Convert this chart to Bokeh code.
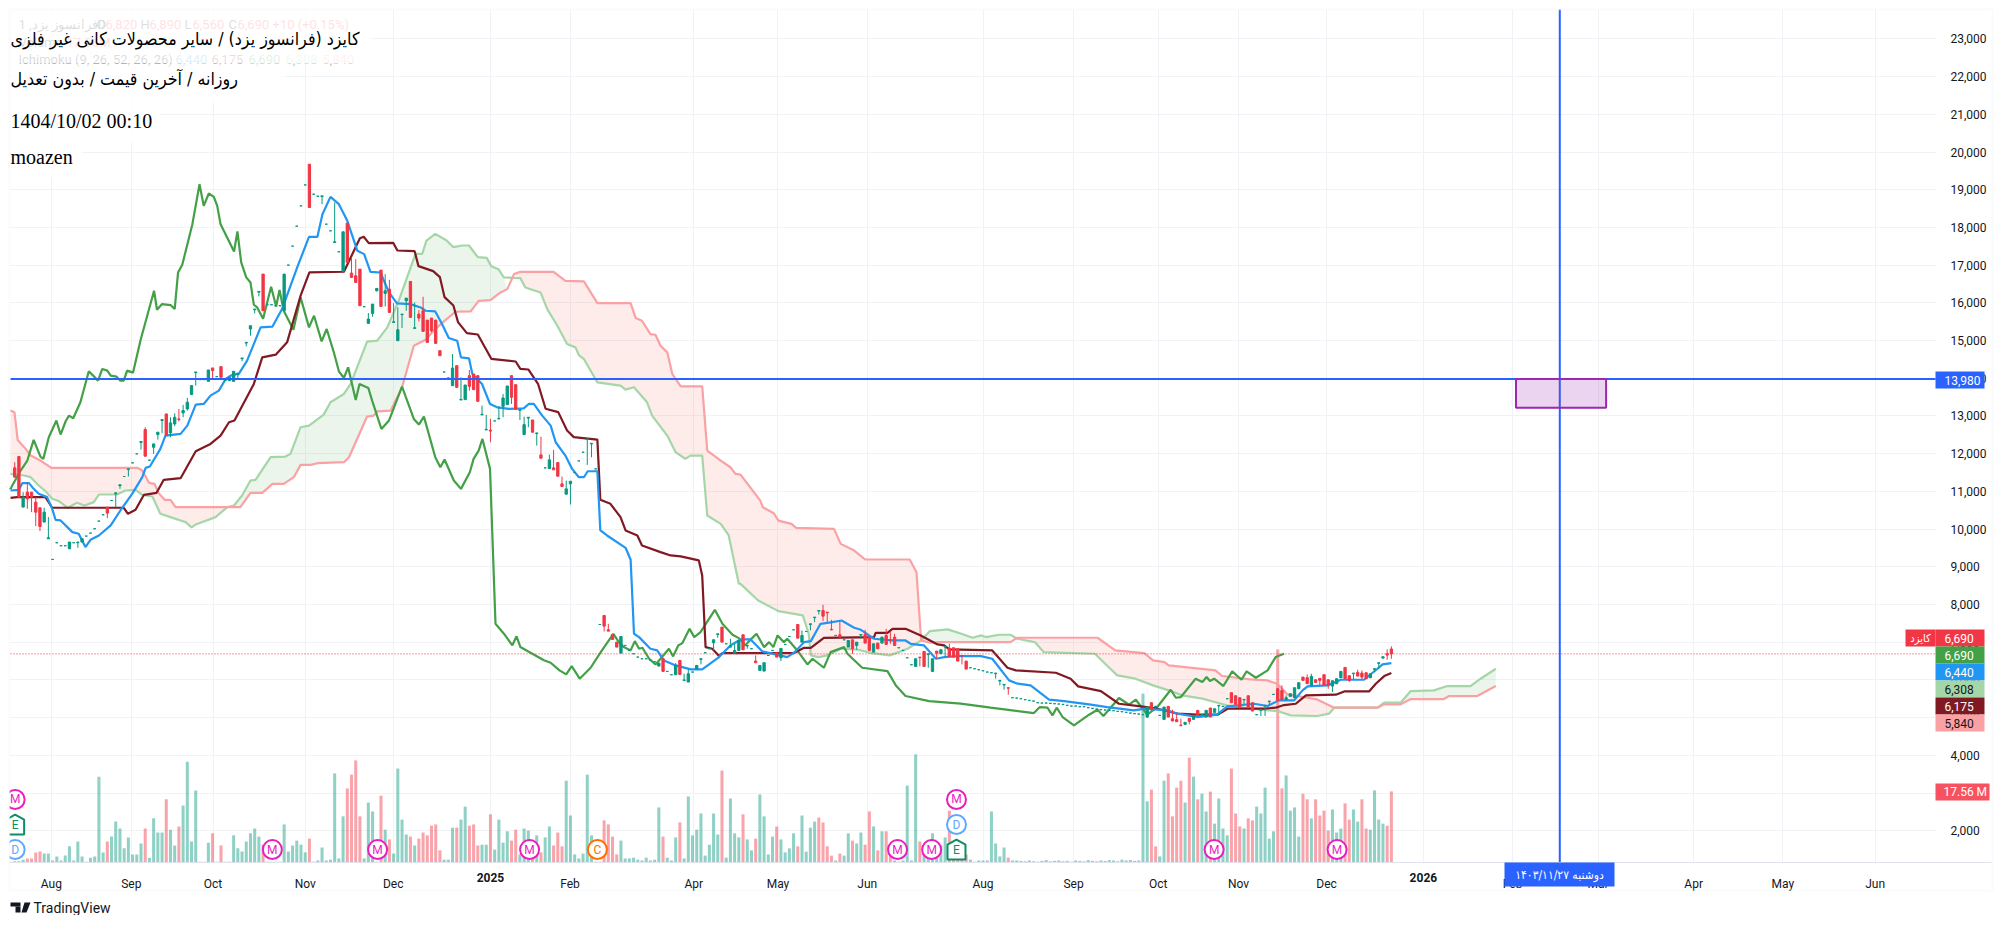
from bokeh.core.properties import value
from bokeh.embed import file_html
from bokeh.models import (BoxAnnotation, FixedTicker, Label, NumeralTickFormatter,
                          PolyAnnotation, Range1d)
from bokeh.plotting import figure
from bokeh.resources import INLINE

# candles, one value per bar
candle_open = [
    11070, 11625, 11925, 10583, 10980, 10980, 10715, 10565, 10186, 9744,
    9196, 9638, 9558, 9558, 9479, 9638, 9640, 9656, 9815, 9894,
    10009, 10212, 10380, 10583, 10759, 10940, 11150, 11395, 11580, 11757,
    11996, 12300, 12640, 11828, 12172, 12508, 12880, 13055, 12552, 12790,
    12923, 13082, 13187, 13567, 14150, 13965, 13965, 13920, 14274, 14044,
    14309, 13938, 13938, 13920, 14095, 14520, 14935, 15307, 15820, 16285,
    16764, 15951, 15951, 15925, 15925, 15792, 17002, 17506, 18035, 18574,
    19130, 19678, 18883, 18830, 18820, 18088, 17912, 17603, 17355, 16835,
    18115, 16790, 16720, 16896, 15898, 15457, 15721, 16321, 16869, 16251,
    16365, 15483, 14997, 15690, 16056, 16569, 15324, 15703, 15792, 15544,
    15597, 15544, 14732, 14167, 14008, 13805, 14335, 13425, 13434, 14070,
    14114, 14070, 13028, 12630, 12625, 12869, 12922, 13257, 13301, 14070,
    13831, 13150, 12507, 12945, 12895, 12535, 11968, 11624, 11606, 11624,
    11765, 11200, 10926, 11200, 11500, 11809, 12039, 12375, 12260, 11597,
    7470, 7709, 7329, 7205, 7002, 6711, 6914, 6782, 6693, 6605,
    6561, 6561, 6517, 6481, 6367, 6561, 6225, 6137, 6137, 6517,
    5987, 5943, 6208, 6287, 6545, 6720, 6826, 6985, 7205, 7400,
    6958, 6870, 6711, 6782, 7197, 6900, 6826, 6499, 6252, 6234,
    6649, 6782, 6720, 6587, 6941, 7152, 7329, 7470, 7002, 7285,
    7470, 7650, 7825, 7841, 7797, 7340, 7179, 7197, 7064, 6870,
    7064, 6914, 7190, 7205, 7135, 6737, 6976, 6976, 7179, 7064,
    7135, 6852, 6782, 6587, 6402, 6358, 6605, 6755, 6675, 6225,
    6764, 6693, 6870, 6843, 6852, 6826, 6649, 6499, 6322, 6296,
    6269, 6243, 6208, 6190, 6165, 5970, 5865, 5793, 5528, 5519,
    5501, 5475, 5457, 5439, 5395, 5386, 5386, 5378, 5369, 5360,
    5351, 5325, 5307, 5307, 5289, 5289, 5263, 5245, 5227, 5210,
    5201, 5192, 5183, 5165, 5157, 5139, 5121, 5104, 5095, 5077,
    5015, 5395, 5298, 5059, 4953, 5298, 4971, 4945, 4800, 4821,
    4980, 4953, 5192, 5077, 5015, 5254, 5139, 5310, 5298, 5501,
    5660, 5580, 5527, 5470, 5580, 5395, 5077, 5195, 5310, 5425,
    5616, 5766, 5722, 5474, 5563, 5527, 5766, 6075, 6057, 5854,
    6004, 6040, 6137, 6004, 5836, 5898, 6057, 6331, 6110, 6165,
    6198, 6181, 6190, 6057, 6280, 6440, 6578, 6693, 6820,
]
candle_close = [
    11070, 11377, 10848, 10848, 10803, 10848, 10450, 10070, 10450, 9770,
    9196, 9638, 9558, 9558, 9656, 9638, 9656, 9744, 9815, 9894,
    10009, 10212, 10380, 10424, 10759, 10962, 11175, 11395, 11598, 11757,
    11996, 12322, 11934, 11828, 12260, 12570, 12905, 12481, 12817, 12967,
    12905, 13144, 13364, 13806, 14168, 13965, 13965, 14221, 14203, 14044,
    14026, 13938, 14026, 14185, 14115, 14539, 14954, 15395, 15837, 16305,
    15792, 15951, 15951, 15925, 15925, 16764, 17002, 17506, 18035, 18574,
    19130, 18530, 18883, 18830, 18839, 18088, 17912, 17620, 17355, 17885,
    17073, 16675, 16543, 15925, 15898, 15572, 15968, 16383, 15906, 16321,
    15747, 15500, 15288, 15703, 16127, 15615, 15340, 15597, 15244, 14953,
    15262, 14926, 14599, 14167, 14008, 14273, 13760, 13440, 13822, 13787,
    13699, 13390, 13045, 12645, 12600, 12869, 12935, 13478, 13796, 13496,
    13178, 13169, 12772, 12966, 12569, 12551, 11880, 11624, 11836, 11571,
    11403, 11129, 11067, 11270, 11500, 11809, 12039, 12392, 12277, 11597,
    7470, 7426, 7294, 7073, 6870, 7152, 6914, 6782, 6693, 6605,
    6561, 6561, 6517, 6481, 6446, 6225, 6225, 6137, 6384, 6146,
    6000, 6163, 6208, 6384, 6561, 6720, 6826, 7064, 7223, 7002,
    6958, 6885, 6782, 7046, 6799, 6914, 6826, 6455, 6384, 6455,
    6649, 6782, 6605, 6835, 6941, 7152, 7329, 7108, 7179, 7285,
    7488, 7665, 7841, 7691, 7780, 7325, 7179, 7135, 7064, 7046,
    6826, 7002, 7205, 6976, 6782, 6958, 6826, 7135, 6941, 7046,
    6914, 6852, 6782, 6587, 6402, 6561, 6590, 6358, 6693, 6561,
    6711, 6799, 6888, 6623, 6605, 6499, 6635, 6287, 6322, 6296,
    6269, 6243, 6208, 6190, 6181, 5987, 5881, 5780, 5528, 5519,
    5501, 5475, 5457, 5439, 5395, 5386, 5386, 5378, 5369, 5360,
    5351, 5325, 5307, 5307, 5289, 5289, 5263, 5245, 5227, 5210,
    5201, 5192, 5183, 5165, 5157, 5139, 5121, 5104, 5095, 5077,
    5280, 5210, 5298, 5059, 5280, 5015, 4909, 4892, 4785, 4874,
    4900, 5059, 5077, 5077, 5192, 5015, 5236, 5324, 5298, 5501,
    5395, 5351, 5263, 5483, 5263, 5174, 5077, 5210, 5324, 5439,
    5616, 5457, 5474, 5527, 5633, 5792, 5925, 5987, 5898, 6093,
    5934, 5987, 5854, 5854, 5978, 6031, 6225, 6031, 5987, 6181,
    6101, 6075, 6031, 6163, 6296, 6455, 6614, 6658, 6690,
]
# only the bars whose wick goes past the body
wick_high = {
    1: 11775, 3: 10980, 4: 11245, 6: 10848, 8: 10565, 9: 10318, 32: 12702, 38: 12967, 39: 13073,
    40: 13188, 41: 13294, 42: 13479, 77: 18662, 81: 17205, 82: 17161, 85: 15731, 89: 16763,
    90: 16613, 91: 15995, 92: 15880, 96: 16012, 97: 15809, 98: 16162, 105: 14644, 107: 14025,
    109: 14220, 112: 13275, 113: 13028, 114: 12922, 116: 13257, 117: 13584, 122: 12983,
    126: 12454, 128: 11977, 129: 12100, 131: 11394, 132: 11288, 142: 7488, 158: 6446, 160: 6163,
    161: 6278, 171: 7091, 172: 6958, 177: 6649, 188: 7311, 193: 7991, 195: 7594, 197: 7559,
    203: 7329, 208: 7355, 209: 7267, 210: 7223, 223: 6958, 276: 5210, 277: 5104, 278: 4971,
    302: 5854, 303: 5589, 308: 6146, 309: 6163, 320: 6269, 321: 6251, 327: 6808, 328: 6890,
}
wick_low = {
    4: 10539, 5: 10450, 6: 10080, 7: 9947, 16: 9505, 23: 10291, 25: 10583, 26: 11068, 28: 11395,
    31: 12110, 34: 11996, 35: 12375, 36: 12543, 38: 12437, 39: 12728, 40: 12852, 41: 12967,
    42: 13144, 44: 13806, 48: 13982, 54: 13982, 55: 14450, 56: 14848, 57: 15130, 58: 15722,
    59: 16172, 74: 18618, 86: 15633, 87: 16304, 89: 15906, 93: 15332, 94: 15792, 97: 15509,
    100: 15218, 109: 13672, 114: 12304, 117: 12966, 119: 13319, 121: 12895, 123: 12701,
    125: 12215, 133: 10652, 137: 11703, 138: 11906, 141: 7285, 164: 6411, 167: 6782, 168: 7117,
    175: 6826, 183: 6499, 190: 7311, 191: 7532, 192: 7735, 193: 7559, 194: 7532, 195: 7320,
    200: 6693, 201: 6799, 202: 7091, 209: 6958, 216: 6358, 218: 6322, 220: 6561, 222: 6605,
    226: 6411, 234: 6031, 235: 5854, 236: 5740, 237: 5607, 270: 4998, 280: 4821, 287: 5077,
    293: 5351, 297: 5042, 298: 5042, 299: 5324, 311: 5854, 313: 5766, 314: 5678, 318: 5942,
    319: 6004, 321: 6004, 324: 6207, 325: 6296, 327: 6534, 328: 6560,
}

# volume in millions, g = up bar, r = down bar
volume = [
    .2, .3, .3, .7, 1.0, 1.0, 2.5, 2.7, 2.2, 2.2,
    .5, 1.5, .5, 1.7, 4.0, .5, 5.2, 1.5, .2, 1.2,
    1.5, 21.2, 2.5, 5.2, 6.4, 10.1, 8.4, 3.5, 6.2, 2.0,
    2.0, 4.7, 8.4, 1.2, 10.9, 7.4, 7.4, 15.6, 8.1, 4.2,
    8.9, 14.1, 24.9, 5.2, 17.8, .2, .2, 4.9, 7.2, .2,
    4.2, .2, .2, 6.7, 3.5, 2.7, 5.2, 7.2, 8.4, 6.4,
    4.4, .2, .2, .2, .2, 9.4, 2.7, 4.2, 5.4, 4.4,
    2.5, 5.9, .2, .5, 3.7, .5, .7, 22.0, 1.0, 11.4,
    18.3, 21.7, 25.2, 11.4, 1.0, 14.8, 12.6, .2, 16.5, 8.1,
    5.7, 2.2, 23.2, 10.6, 6.9, 6.4, 4.2, 5.9, 7.4, 6.7,
    9.1, 9.4, 3.0, .7, .7, 8.6, 8.6, 10.6, 13.8, 9.1,
    9.4, 4.2, 4.4, 4.4, 11.9, 3.2, 10.6, 4.9, 7.7, 5.4,
    8.1, 2.0, 8.4, 7.9, 2.5, 6.7, 2.5, 6.2, 8.9, 4.2,
    7.4, 4.0, 20.2, 11.6, 2.0, 1.0, 2.2, 21.7, 6.7, .2,
    .2, 10.4, 9.4, 6.4, 2.0, 5.4, 1.0, 1.0, 1.2, .7,
    .5, 1.2, .5, .7, 13.6, 6.4, 1.2, .5, 6.2, 9.9,
    1.0, 16.3, 6.7, 8.1, 12.1, 1.7, 4.4, 12.1, 6.9, 22.7,
    1.2, 15.8, 7.2, 6.2, 11.9, 5.7, 3.0, 5.9, 16.8, 11.4,
    2.0, 6.4, 8.9, 5.7, 2.5, 3.5, 7.2, 4.0, 11.6, 2.7,
    8.6, 10.1, 11.1, 9.9, 4.0, 1.7, .5, 2.2, 1.7, 7.2,
    5.4, 4.7, 7.4, 4.4, 12.6, 8.9, 3.0, 7.7, 7.7, 3.0,
    .5, .2, .5, 19.0, .5, 26.7, 5.2, 2.0, 1.0, 7.2,
    3.0, 4.2, 6.2, 12.8, 2.5, 1.2, 1.0, 2.0, .7, .2,
    .5, .5, .5, 12.6, 4.7, 1.5, 3.7, 1.2, .5, .5,
    .4, .3, .5, .3, .2, .4, .6, .3, .4, .5,
    .3, .4, .2, .5, .4, .3, .6, .4, .3, .5,
    .4, .6, .5, .3, .7, .5, .6, .4, .5, 41.7,
    15.1, 18.0, 4.0, 1.5, 20.2, 22.0, 11.4, 18.5, 20.2, 14.8,
    25.9, 21.2, 15.6, 17.0, 12.6, 17.5, 9.6, 15.8, 8.4, 6.7,
    23.2, 12.1, 8.9, 8.4, 10.9, 10.4, 13.8, 12.1, 18.5, 5.9,
    7.7, 52.6, 18.3, 21.5, 12.8, 13.6, 6.4, 17.0, 15.6, 10.9,
    15.6, 11.6, 12.8, 7.9, 13.1, 7.4, 8.4, 14.6, 10.6, 13.1,
    10.1, 15.6, 8.4, 8.1, 17.8, 10.6, 9.6, 9.1, 17.56,
]
volume_side = (
    "grrgrrrrgg" "gggggggggg" "gggrgggggg" "ggrggggrgg" "rggggggg" "rg" "rggggggggg" "rggggggggg"
    "grgggggggg" "rrrrggggrg" "rggggrgrrr" "rrrgggrggr" "rrggrggggr" "rgggrgrggr" "rrgggggggg"
    "grrrrggggg" "gggggrgggr" "gggggggggr" "ggggrggrgg" "ggrggggrgg" "ggrrrrgrgg" "rggrrgrgrr"
    "ggggggrggg" "gggrrrrrgg" "gggggggrgg" "gggggggggg" "gggggggggg" "gggggggggg" "grrggrrrrg"
    "rgrggrgggg" "rrrgrrgggg" "grrggggrrg" "rrrrgggrrg" "grrggggrr"
)

# ichimoku lines, (bar, price) vertices
tenkan_bars = [
    0, 2, 2.8, 4.4, 5.5, 6.7, 8.7, 9.9, 10.7, 11.9, 13.5, 14.7, 16.2, 17.8, 19, 21, 23.8, 26.1, 28.9, 31.3,
    32.1, 33.1, 35.6, 36.8, 40.4, 42, 44, 45.9, 47.5, 49.5, 51.1, 52.3, 54.3, 56.2, 59.4, 62.2, 64.5, 68.1,
    70.9, 72.9, 74.1, 76, 78, 80, 82.4, 84, 85.5, 87.9, 88.7, 89.9, 91.8, 95, 97.4, 98.6, 100.9, 102.5, 104.1,
    106.1, 107, 108.9, 109.7, 112, 113.9, 115.6, 118.4, 121.9, 123.1, 124.3, 126.3, 128.3, 129.5, 131.8,
    133.4, 135, 136.2, 137.1, 139.4, 140.1, 141.7, 146.1, 147.3, 148.1, 149.3, 152, 153.6, 155.2, 158, 161.6,
    164.3, 168.3, 171, 173.4, 175.8, 178.6, 184.5, 186.3, 188.5, 190.1, 192.4, 195.2, 197.4, 200.4, 202,
    205.1, 209.1, 212.6, 213.8, 217, 219.8, 221.8, 224.9, 230.5, 233.2, 237.2, 239.2, 242.3, 246.7, 250.3,
    256.6, 260.5, 266.8, 269.6, 274.8, 277.1, 281.9, 286.6, 289, 292.2, 295.4, 298.6, 301.3, 304.9, 306.9,
    308.1, 312.8, 316, 321.5, 324.7, 325.9, 328,
]
tenkan_values = [
    11024, 11042, 11219, 11219, 11068, 10936, 10848, 10538, 10247, 10230, 10053, 9920, 9877, 9523, 9717, 9831,
    10097, 10494, 10936, 11377, 11625, 11660, 12128, 12481, 12525, 12746, 13302, 13320, 13541, 13673, 13982,
    14070, 14132, 14468, 15351, 15369, 15837, 16940, 17753, 17753, 18353, 18812, 18618, 18177, 17382, 17294,
    16825, 16807, 16586, 16277, 15986, 15968, 15880, 15791, 15774, 15438, 15067, 14997, 14555, 14529, 14114,
    13849, 13319, 13231, 13187, 13204, 13319, 13319, 13010, 12745, 12304, 11950, 11597, 11376, 11376, 11535,
    11535, 9964, 9831, 9504, 9187, 7223, 7135, 6826, 6782, 6517, 6384, 6278, 6278, 6605, 6914, 7073, 7073,
    6755, 6605, 6737, 7002, 7029, 7488, 7532, 7576, 7382, 7329, 7091, 7046, 7046, 6958, 6914, 6561, 6605,
    6632, 6632, 6561, 5987, 5899, 5854, 5475, 5439, 5342, 5280, 5192, 5236, 5192, 5104, 5015, 5077, 5298,
    5333, 5368, 5307, 5457, 5457, 5722, 5828, 5854, 6004, 6004, 6296, 6410, 6446,
]
kijun_bars = [
    0, 1.6, 8.3, 9.9, 26.9, 27.9, 29.7, 31.7, 34.7, 36.4, 40.4, 44, 47.5, 49.9, 51.9, 53.2, 57.8, 59.8, 63,
    65.7, 68.9, 71, 79.2, 83, 83.9, 85.1, 90.9, 91.9, 96, 96.9, 100.4, 102, 103.1, 105.2, 106.3, 108.4, 111,
    114.2, 120, 121.1, 123, 125.3, 127.1, 130.1, 132.2, 133.8, 139.4, 140.1, 142.5, 144.9, 146.1, 148.9, 150,
    154.4, 156.8, 159.2, 163.5, 164.3, 165.1, 166.7, 168.3, 169.1, 186.1, 188.5, 190.1, 193.2, 205.1, 205.5,
    208.3, 209.5, 212.6, 216.2, 220.2, 221.8, 223, 233.2, 236.8, 238.8, 248.3, 251.8, 253.6, 259, 263.3, 268.5,
    272.4, 277.2, 281.9, 286.7, 289.1, 297.8, 300.5, 302.5, 305.3, 307.7, 314.8, 316.8, 322.7, 324.3, 326.3, 328,
]
kijun_values = [
    10830, 10848, 10848, 10566, 10566, 10406, 10512, 10909, 10962, 11307, 11351, 12066, 12260, 12481, 12834,
    12879, 13850, 14556, 14627, 14954, 16190, 16808, 16826, 17717, 17753, 17585, 17593, 17390, 17372, 16975,
    16842, 16683, 16152, 15931, 15489, 15198, 15162, 14517, 14446, 14252, 14234, 13854, 13191, 13103, 12616,
    12440, 12374, 10776, 10670, 10317, 9964, 9831, 9566, 9390, 9301, 9275, 9169, 8772, 6870, 6826, 6632, 6711,
    6711, 6852, 6852, 7117, 7135, 7250, 7250, 7355, 7355, 7179, 6941, 6914, 6808, 6782, 6322, 6252, 6190, 6031,
    5828, 5704, 5368, 5298, 5236, 5104, 5077, 5077, 5236, 5236, 5263, 5333, 5368, 5589, 5607, 5695, 5695, 5898,
    6101, 6181,
]
chikou_bars = [
    0, 2.4, 4, 5.5, 7.1, 7.8, 9.1, 10.9, 11.9, 13.1, 13.9, 14.9, 16.6, 18.6, 20.8, 21.8, 23, 23.8, 25.2, 26.1,
    26.9, 27.7, 29.1, 30.9, 34.1, 34.8, 36, 38, 39, 39.8, 40.8, 43.2, 44.9, 45.9, 47.1, 48.3, 49.1, 49.9, 53.1,
    53.9, 54.8, 56, 57, 57.8, 58.6, 60, 61.9, 63.1, 63.9, 64.9, 67.2, 68.9, 70.9, 72.1, 73.9, 75.1, 76.8, 78,
    79.2, 80.2, 82, 82.9, 85, 85.9, 88.1, 89.9, 93, 95.8, 97, 98.2, 100.9, 102.1, 103.1, 105.3, 107, 109.1, 110,
    111.2, 112.1, 113.9, 115.2, 117.2, 119.2, 120.2, 121.1, 126.7, 128.3, 130.4, 132, 133.3, 135.2, 137.8, 140.2,
    143.2, 144.5, 145.7, 147.3, 148.3, 149.3, 150.1, 151.7, 153.2, 154.4, 156.4, 157.4, 158.6, 159.6, 161.3,
    162.4, 163.9, 167.3, 169.1, 171.5, 173, 174.6, 175.2, 177.2, 179, 180.2, 181.2, 182.2, 183.7, 184.5, 186.9,
    189.3, 190.5, 193.2, 194.8, 198, 198.8, 202.3, 208.3, 210.3, 212.6, 218.2, 225.7, 232.8, 243.1, 244.5, 246.3,
    247.5, 248.5, 249.9, 252.6, 256.2, 258.2, 259.6, 263.3, 265.7, 267.3, 270, 272.4, 275.6, 276.8, 278, 281.5,
    283.1, 284.1, 284.9, 285.9, 288.1, 290.2, 292.4, 293.6, 295.8, 298.6, 300.5, 302.5,
]
chikou_values = [
    11069, 11554, 11819, 12366, 11925, 11863, 12437, 12879, 12508, 12861, 13011, 12940, 13364, 14185, 13938,
    14247, 14203, 14071, 14044, 13938, 13938, 14203, 14150, 15018, 16322, 15819, 15969, 15943, 15836, 16808,
    17011, 18088, 19148, 18574, 18901, 18812, 18574, 18088, 17364, 17894, 17073, 16676, 16543, 15951, 15881,
    15581, 16428, 15907, 16340, 15793, 15289, 16146, 15351, 15660, 14980, 15307, 14689, 14185, 14009, 14291,
    13426, 13850, 13744, 13408, 12657, 12878, 13778, 12922, 12772, 12984, 11906, 11641, 11845, 11288, 11067,
    11509, 11862, 12083, 12392, 11597, 7491, 7226, 6917, 7156, 6873, 6520, 6456, 6253, 6147, 6367, 6032, 6322,
    6737, 7223, 7002, 6870, 6782, 7029, 6826, 6852, 6561, 6411, 6561, 6826, 6623, 6914, 6976, 7355, 7135, 7267,
    7859, 7488, 7197, 7108, 6914, 7002, 7223, 6870, 7002, 6870, 7179, 7002, 7091, 6782, 6411, 6561, 6322, 6737,
    6870, 6693, 6322, 6234, 5854, 5572, 5439, 5369, 5263, 5121, 5280, 5263, 5059, 5263, 5015, 4795, 5077, 5210,
    5042, 5519, 5342, 5474, 5077, 5280, 5739, 5527, 5545, 6031, 5942, 6075, 5969, 6031, 5837, 6225, 6004, 6225,
    6057, 6251, 6605, 6693,
]
span_a_bars = [
    0, 3.2, 4.8, 6.7, 8.3, 9.9, 11.5, 13.6, 15.8, 17.6, 19.8, 21, 25.3, 27.3, 29.7, 31.3, 33.7, 35.6, 38, 40.4,
    41.6, 43, 44, 48.7, 51.5, 53.1, 55, 57, 58.2, 61.8, 65.3, 66.5, 68.9, 70.9, 74.4, 76, 79.2, 80.8, 84.7, 87.1,
    89.5, 92.2, 96.2, 97.8, 98.8, 100.9, 103.6, 105.2, 107.3, 108.9, 111, 113.1, 114.2, 115.9, 117.2, 121.1,
    122.3, 125.9, 127.5, 129.9, 132.2, 134.2, 135, 136.2, 139.4, 144.9, 146.1, 148.1, 151.2, 152.4, 156, 158,
    160.3, 161.5, 164.3, 165.5, 168.7, 170.6, 173, 173.4, 177.6, 182.4, 188.2, 189.6, 190.1, 191.9, 194, 197.2,
    201.4, 204.6, 208.9, 213.1, 216.3, 218.4, 222.6, 226.4, 228.5, 230.6, 231.7, 234.8, 237.5, 239.1, 243.3, 245.4,
    257.6, 260.8, 262.9, 267.2, 271.4, 275.1, 278.3, 283.1, 288.9, 294.5, 300.9, 304.1, 310.4, 313.2, 314.4, 324.7,
    326.3, 330.2, 332.6, 338.1, 341.3, 346.8, 349.2, 352.8,
]
span_a_values = [
    11466, 11422, 11377, 11157, 11007, 10804, 10742, 10565, 10698, 10627, 10715, 10918, 10918, 11024, 11042,
    10909, 10865, 10406, 10318, 10230, 10185, 10044, 10123, 10318, 10583, 10627, 10892, 11289, 11307, 11907,
    11925, 11995, 12702, 12746, 13037, 13364, 13585, 13850, 14971, 14998, 15350, 16056, 17302, 17302, 17655,
    17832, 17655, 17478, 17523, 17523, 17213, 17195, 16975, 16895, 16674, 16657, 16410, 16277, 15836, 15394,
    14908, 14820, 14617, 14511, 13893, 13805, 13699, 13761, 13363, 13010, 12480, 12039, 11862, 11950, 11950,
    10361, 10140, 9831, 8551, 8548, 8107, 7824, 7710, 7224, 6650, 6606, 6650, 6827, 6800, 6712, 6650, 6827, 7047,
    7295, 7339, 7206, 7118, 7180, 7136, 7197, 7197, 7092, 7003, 6738, 6694, 6341, 6120, 6032, 5855, 5723, 5590,
    5502, 5326, 5237, 5174, 5059, 5042, 5104, 5263, 5263, 5395, 5395, 5704, 5722, 5837, 5837, 6031, 6296,
]
span_b_bars = [
    0, .95, 1.7, 3.6, 4.8, 7.1, 9.7, 30.1, 31.3, 32.9, 34.2, 35.2, 36.6, 38, 39.2, 54.6, 57, 59.8, 62.2, 64.9,
    67.3, 68.9, 71.3, 72.9, 79.2, 80.4, 84.7, 86.3, 87.2, 90.3, 93, 95.8, 98.6, 100.9, 103.3, 105.7, 109.3, 111.2,
    114, 116.4, 118, 119.6, 121.1, 129, 131.8, 136.2, 139.4, 147.3, 148.5, 150, 152, 153.2, 154.4, 156, 157.2,
    159.2, 164.3, 165.5, 168.7, 171, 172.2, 173.4, 178.1, 178.7, 181.3, 182.4, 185.5, 186.6, 195.6, 197.2, 200.4,
    203, 213.6, 215.2, 216.3, 218.4, 220.5, 237.5, 239.1, 258.2, 262.4, 269.3, 271.4, 274.1, 275.1, 286.2, 287.8,
    294.5, 298.5, 300.9, 303.3, 310.4, 314.4, 324.7, 326.3, 330.2, 332.6, 340.5, 341.7, 348.4, 352.8,
]
span_b_values = [
    13143, 13099, 12366, 12128, 11951, 11819, 11625, 11625, 11554, 11228, 11201, 10954, 10777, 10777, 10583,
    10583, 10962, 10962, 11201, 11201, 11377, 11704, 11704, 11748, 11775, 11907, 12985, 13011, 13125, 13143,
    13761, 14864, 15023, 15306, 15544, 15765, 15774, 16056, 16074, 16277, 16365, 16763, 16825, 16825, 16586,
    16569, 15995, 15995, 15597, 15527, 15173, 15156, 14864, 14688, 14114, 13787, 13787, 12083, 11818, 11641,
    11465, 11447, 10756, 10579, 10420, 10226, 10138, 10032, 10005, 9608, 9431, 9193, 9193, 8858, 7047, 6985,
    7003, 7003, 7118, 7118, 6783, 6712, 6518, 6473, 6385, 6253, 6103, 6014, 5987, 5898, 5616, 5483, 5263, 5263,
    5351, 5351, 5492, 5492, 5572, 5572, 5837,
]
# where the two spans cross, and who is on top in between
cloud_cross_bars = [0, 52, 119, 216.3, 238.6, 314.4, 352.8]
cloud_sides = ["b", "a", "b", "a", "b", "a"]

month_bars = [9.7, 28.7, 48.1, 70, 90.9, 132.9, 162.3, 182.3, 203.5, 231, 252.5, 272.6, 291.7, 312.6, 356.8, 377.1, 399.8, 421, 442.9]
month_labels = ["Aug", "Sep", "Oct", "Nov", "Dec", "Feb", "Apr", "May", "Jun", "Aug", "Sep", "Oct", "Nov", "Dec", "Feb", "Mar", "Apr", "May", "Jun"]
year_bars = [114, 335.6]
year_labels = ["2025", "2026"]
price_ticks = list(range(2000, 24000, 1000))

event_bars = [1.1, 1.1, 1.1, 62.2, 87.2, 123.3, 139.4, 210.7, 218.8, 224.7, 224.7, 224.7, 285.9, 315.1]
event_prices = [1500, 2164, 2828, 1500, 1500, 1500, 1500, 1500, 1500, 1500, 2164, 2828, 1500, 1500]
event_labels = ["D", "E", "M", "M", "M", "M", "C", "M", "M", "E", "D", "M", "M", "M"]
event_colors = {"M": "#E91EBF", "D": "#5DA9FF", "E": "#0B8F63", "C": "#FF6D00"}

last_price = 6690
line_price = 13980
line_bar = 368
box_bars = (357.6, 379)
box_prices = (13220, 13980)

UP = "#089981"
DOWN = "#F23645"
TENKAN = "#2196F3"
KIJUN = "#801922"
CHIKOU = "#43A047"
SPAN_A = "#A5D6A7"
SPAN_B = "#FAA1A4"
BLUE = "#2962FF"
TEXT = "#131722"
GRID = "#F0F2F5"
FONT = "Roboto"
TITLE_FONT = "DejaVu Sans Condensed"

BAR_PX = 4.21
PRICE_PX = 26.525
VOLUME_PX = 4.05
LINE_W = 2.2


# page pixel to chart value, only used to place the chrome around the chart
def bar_at(px):
    return (px - 10) / BAR_PX


def price_at(py):
    return 8000 + (604 - py) * PRICE_PX


# the frame fills the whole canvas, the axes sit at fixed spots inside it,
# otherwise the price tags outside the pane get clipped
p = figure(width=1995, height=915, output_backend="svg", toolbar_location=None,
           x_range=Range1d(bar_at(0), bar_at(1995)), y_range=Range1d(price_at(915), price_at(0)),
           min_border=0, x_axis_location="below", y_axis_location="right")
p.extra_y_ranges["volume"] = Range1d(-53 / VOLUME_PX, 862 / VOLUME_PX)
p.outline_line_color = None
p.background_fill_color = "white"

all_month_bars = month_bars + year_bars
xaxis = p.xaxis[0]
xaxis.fixed_location = price_at(862)
xaxis.ticker = FixedTicker(ticks=all_month_bars)
xaxis.bounds = (bar_at(9), bar_at(1992))
overrides = {b: t for b, t in zip(month_bars, month_labels)}
overrides.update({b: "" for b in year_bars})
xaxis.major_label_overrides = overrides
xaxis.major_tick_line_color = None
xaxis.minor_tick_line_color = None
xaxis.axis_line_color = "#E0E3EB"
xaxis.major_label_text_font = FONT
xaxis.major_label_text_font_size = "12px"
xaxis.major_label_text_color = TEXT
xaxis.major_label_standoff = 8

yaxis = p.yaxis[0]
yaxis.fixed_location = bar_at(1935)
yaxis.ticker = FixedTicker(ticks=price_ticks)
yaxis.formatter = NumeralTickFormatter(format="0,0")
yaxis.major_tick_line_color = None
yaxis.minor_tick_line_color = None
yaxis.axis_line_color = None
yaxis.major_label_text_font = FONT
yaxis.major_label_text_font_size = "12px"
yaxis.major_label_text_color = TEXT
yaxis.major_label_standoff = 9

p.xgrid.ticker = FixedTicker(ticks=all_month_bars)
p.ygrid.ticker = FixedTicker(ticks=price_ticks)
p.xgrid.grid_line_color = GRID
p.ygrid.grid_line_color = GRID

# grid stops at the pane
for x0, x1, y0, y1 in [(1936, 1995, 0, 915), (0, 1995, 863, 915), (0, 1995, 0, 9), (0, 9, 0, 915)]:
    p.quad(left=[bar_at(x0)], right=[bar_at(x1)], top=[price_at(y0)], bottom=[price_at(y1)],
           fill_color="white", line_color=None)

# volume at the bottom of the pane
bars = list(range(len(candle_open)))
vol_colors = [UP if s == "g" else DOWN for s in volume_side]
p.vbar(x=bars, top=volume, bottom=0, width=0.72, fill_color=vol_colors, fill_alpha=0.45,
       line_color=None, y_range_name="volume")

# cloud, one polygon per stretch between two crossings
for n, side in enumerate(cloud_sides):
    lo, hi = cloud_cross_bars[n], cloud_cross_bars[n + 1]
    a = [(b, v) for b, v in zip(span_a_bars, span_a_values) if lo <= b <= hi]
    b_ = [(b, v) for b, v in zip(span_b_bars, span_b_values) if lo <= b <= hi]
    xs = [q[0] for q in a] + [q[0] for q in reversed(b_)]
    ys = [q[1] for q in a] + [q[1] for q in reversed(b_)]
    color = "#43A047" if side == "a" else "#F44336"
    p.patch(xs, ys, fill_color=color, fill_alpha=0.1, line_color=None)

p.line(span_a_bars, span_a_values, color=SPAN_A, line_width=LINE_W)
p.line(span_b_bars, span_b_values, color=SPAN_B, line_width=LINE_W)
p.line(chikou_bars, chikou_values, color=CHIKOU, line_width=LINE_W)
p.line(kijun_bars, kijun_values, color=KIJUN, line_width=LINE_W)
p.line(tenkan_bars, tenkan_values, color=TENKAN, line_width=LINE_W)

# candles
candle_high = [wick_high.get(i, max(o, c)) for i, (o, c) in enumerate(zip(candle_open, candle_close))]
candle_low = [wick_low.get(i, min(o, c)) for i, (o, c) in enumerate(zip(candle_open, candle_close))]
candle_colors = [UP if c >= o else DOWN for o, c in zip(candle_open, candle_close)]
p.segment(bars, candle_high, bars, candle_low, color=candle_colors, line_width=1)
p.vbar(x=bars, top=[max(o, c) for o, c in zip(candle_open, candle_close)],
       bottom=[min(o, c) for o, c in zip(candle_open, candle_close)], width=0.55,
       fill_color=candle_colors, line_color=candle_colors, line_width=1)

# last price, the two drawn lines and the box
p.segment([0], [last_price], [bar_at(1935)], [last_price], color=DOWN, line_width=1, line_dash="1 2")
p.segment([0], [line_price], [bar_at(1935)], [line_price], color=BLUE, line_width=2)
p.segment([line_bar], [price_at(9)], [line_bar], [price_at(862)], color=BLUE, line_width=2)
p.quad(left=[box_bars[0]], right=[box_bars[1]], bottom=[box_prices[0]], top=[box_prices[1]],
       fill_color="#9C27B0", fill_alpha=0.2, line_color="#9C27B0", line_width=2)

# event marks on the volume pane
round_bars = [b for b, t in zip(event_bars, event_labels) if t != "E"]
round_prices = [v for v, t in zip(event_prices, event_labels) if t != "E"]
round_colors = [event_colors[t] for t in event_labels if t != "E"]
p.scatter(round_bars, round_prices, marker="circle", size=19, fill_color="white",
          line_color=round_colors, line_width=2)
for b, v, t in zip(event_bars, event_prices, event_labels):
    if t == "E":
        w, h = 9 / BAR_PX, PRICE_PX
        p.patch([b - w, b, b + w, b + w, b - w],
                [v + 5 * h, v + 10 * h, v + 5 * h, v - 10 * h, v - 10 * h],
                fill_color="white", line_color=event_colors[t], line_width=2)
p.text(event_bars, event_prices, text=event_labels, text_color=[event_colors[t] for t in event_labels],
       text_font=value(FONT), text_font_size="12px", text_align="center", text_baseline="middle")


def put_text(px, py, text, color=TEXT, size="12px", font=FONT, align="left", style="normal"):
    p.add_layout(Label(x=bar_at(px), y=price_at(py), text=text, text_color=color, text_font=font,
                       text_font_size=size, text_align=align, text_baseline="middle",
                       text_font_style=style))


def put_box(left, right, top, bottom, color, alpha=1.0, line=None, width=1):
    p.add_layout(BoxAnnotation(left=bar_at(left), right=bar_at(right), top=price_at(top),
                               bottom=price_at(bottom), fill_color=color, fill_alpha=alpha,
                               line_color=line, line_width=width, level="annotation"))


# marks at the left edge are cut by the pane
put_box(0, 9, 700, 880, "white")

# bold years on the time scale
for b, t in zip(year_bars, year_labels):
    put_text(10 + b * BAR_PX, 877, t, align="center", style="bold")

# legend of the chart, nearly hidden later by the white boxes
put_text(18, 24, "فرانسوز یزد, 1D", size="13px")
for px, t, c in [(96, "O", TEXT), (105, "6,820", DOWN), (140, "H", TEXT), (149, "6,890", DOWN),
                 (184, "L", TEXT), (192, "6,560", DOWN), (228, "C", TEXT), (237, "6,690", DOWN),
                 (272, "+10 (+0.15%)", DOWN)]:
    put_text(px, 24, t, color=c, size="13px")
put_text(18, 42, "Volume", size="13px")
put_text(66, 42, "17.56M", color=DOWN, size="13px")
put_text(18, 59, "Ichimoku (9, 26, 52, 26, 26)", size="13px")
for px, t, c in [(175, "6,440", TENKAN), (211, "6,175", KIJUN), (248, "6,690", CHIKOU),
                 (285, "6,308", SPAN_A), (322, "5,840", SPAN_B)]:
    put_text(px, 59, t, color=c, size="13px")

# white boxes under the title lines
put_box(10, 372, 10, 63, "white", 0.85)
put_box(10, 285, 63, 102, "white", 0.85)
put_box(10, 160, 102, 142, "white", 0.85)
put_box(10, 82, 142, 177, "white", 0.85)
put_text(10, 38, "کایزد (فرانسوز یزد) / سایر محصولات کانی غیر فلزی", color="black", size="17.7px", font=TITLE_FONT)
put_text(10, 78, "روزانه / آخرین قیمت / بدون تعدیل", color="black", size="17.7px", font=TITLE_FONT)
put_text(10, 120, "1404/10/02 00:10", color="black", size="20px", font="Liberation Serif")
put_text(10, 156, "moazen", color="black", size="20px", font="Liberation Serif")

# price tags on the right scale
put_box(1905, 1935, 629, 646, DOWN)
put_text(1920, 637.5, "کایزد", color="white", size="11px", align="center", font=TITLE_FONT)
for top, t, bg, fg in [(629, "6,690", DOWN, "white"), (646, "6,690", CHIKOU, "white"), (663, "6,440", TENKAN, "white"),
                       (680, "6,308", SPAN_A, TEXT), (697, "6,175", KIJUN, "white"), (714, "5,840", SPAN_B, TEXT)]:
    put_box(1935, 1984, top, top + 17, bg)
    put_text(1944, top + 8.5, t, color=fg)
put_box(1935, 1989, 783, 800, "#F7525F")
put_text(1943, 791.5, "17.56 M", color="white")
put_box(1935, 1984, 371, 388, BLUE)
put_text(1944, 379.5, "13,980", color="white")

# crosshair date on the time scale
put_box(1504, 1614, 862, 886, BLUE)
put_text(1559, 874, "دوشنبه ۱۴۰۳/۱۱/۲۷", color="white", size="12px", align="center", font=TITLE_FONT)

# widget frame
put_box(9, 1992, 9, 890, None, 0, line="#F0F3FA", width=2)

# TradingView mark below the frame
put_box(10, 20, 902, 906, "#131722")
put_box(15, 20, 906, 912, "#131722")
p.add_layout(PolyAnnotation(xs=[bar_at(24), bar_at(30), bar_at(26), bar_at(21)],
                            ys=[price_at(902), price_at(902), price_at(912), price_at(912)],
                            fill_color="#131722", fill_alpha=1, line_color=None))
put_text(33, 907, "TradingView", size="14px")

open("out.html", "w").write(file_html(p, INLINE))
